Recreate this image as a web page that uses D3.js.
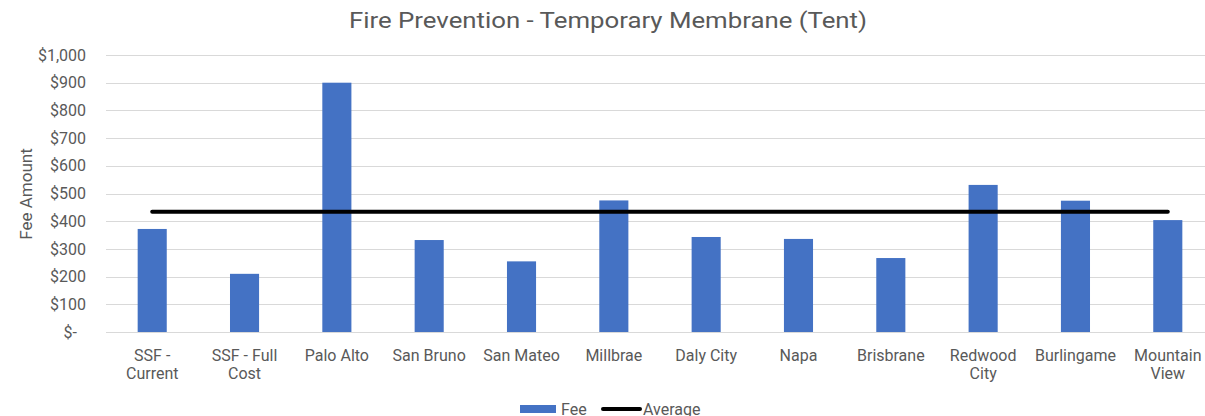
<!DOCTYPE html>
<html>
<head>
<meta charset="utf-8">
<script src="https://cdnjs.cloudflare.com/ajax/libs/d3/7.8.5/d3.min.js"></script>
<style>
  body { margin: 0; background: #fff; }
  text { font-family: Roboto, "Liberation Sans", sans-serif; fill: #595959; }
</style>
</head>
<body>
<div id="chart"></div>
<script>
// values
var cities = ["SSF - Current", "SSF - Full Cost", "Palo Alto", "San Bruno", "San Mateo", "Millbrae",
              "Daly City", "Napa", "Brisbrane", "Redwood City", "Burlingame", "Mountain View"];
var cityLines = [["SSF -", "Current"], ["SSF - Full", "Cost"], ["Palo Alto"], ["San Bruno"], ["San Mateo"], ["Millbrae"],
                 ["Daly City"], ["Napa"], ["Brisbrane"], ["Redwood", "City"], ["Burlingame"], ["Mountain", "View"]];
var fees = [372, 210, 900, 332, 255, 475, 343, 336, 267, 531, 474, 404];
var average = [434, 434, 434, 434, 434, 434, 434, 434, 434, 434, 434, 434];
var yTicks = [0, 100, 200, 300, 400, 500, 600, 700, 800, 900, 1000];

var W = 1205, H = 416;
var margin = {top: 55, right: -9, bottom: 84, left: 106};
var width = W - margin.left - margin.right,
    height = H - margin.top - margin.bottom;

var svg = d3.select("#chart").append("svg")
    .attr("width", W)
    .attr("height", H);

// the reference text looks a bit stretched sideways
svg.append("text")
    .attr("x", 349)
    .attr("y", 28)
    .attr("textLength", 518)
    .attr("lengthAdjust", "spacingAndGlyphs")
    .style("font-size", "22px")
    .text("Fire Prevention - Temporary Membrane (Tent)");

var g = svg.append("g")
    .attr("transform", `translate(${margin.left},${margin.top})`);

var x = d3.scaleBand()
    .domain(cities)
    .range([0, width])
    .paddingInner(0.685)
    .paddingOuter(0.343);

var y = d3.scaleLinear()
    .domain([0, 1000])
    .range([height, 0]);

var fmt = d3.format(",");

// gridlines
g.selectAll(".grid")
    .data(yTicks)
    .enter().append("line")
    .attr("x1", 0)
    .attr("x2", width)
    .attr("y1", d => Math.round(y(d)) + 0.5)
    .attr("y2", d => Math.round(y(d)) + 0.5)
    .attr("stroke", "#d9d9d9")
    .attr("stroke-width", 1);

// y labels
var yAxis = d3.axisLeft(y)
    .tickValues(yTicks)
    .tickSize(0)
    .tickPadding(20)
    .tickFormat(d => d === 0 ? "$-" : "$" + fmt(d));

var ya = g.append("g").call(yAxis);
ya.select(".domain").remove();
ya.selectAll("text")
    .style("font-size", "16px")
    .style("font-family", "Roboto, sans-serif")
    .attr("fill", "#595959")
    .attr("dx", d => d === 0 ? -9 : 0);

// bars
g.selectAll(".bar")
    .data(fees)
    .enter().append("rect")
    .attr("class", "bar")
    .attr("x", (d, i) => x(cities[i]))
    .attr("width", x.bandwidth())
    .attr("y", d => y(d))
    .attr("height", d => height - y(d))
    .attr("fill", "#4472c4");

// average line
var line = d3.line()
    .x((d, i) => x(cities[i]) + x.bandwidth() / 2)
    .y(d => y(d));

g.append("path")
    .datum(average)
    .attr("d", line)
    .attr("fill", "none")
    .attr("stroke", "#000")
    .attr("stroke-width", 4)
    .attr("stroke-linecap", "round");

// x labels
var xl = g.selectAll(".xlab")
    .data(cities)
    .enter().append("text")
    .attr("text-anchor", "middle")
    .attr("transform", d => `translate(${x(d) + x.bandwidth() / 2},${height + 29})`)
    .style("font-size", "16px");

xl.selectAll("tspan")
    .data((d, i) => cityLines[i])
    .enter().append("tspan")
    .attr("x", 0)
    .attr("dy", (d, i) => i === 0 ? 0 : 18)
    .text(d => d);

// y title
svg.append("text")
    .attr("transform", "translate(32,194) rotate(-90)")
    .attr("text-anchor", "middle")
    .style("font-size", "17px")
    .text("Fee Amount");

// legend
var lg = svg.append("g");
lg.append("rect")
    .attr("x", 520)
    .attr("y", 405)
    .attr("width", 36)
    .attr("height", 8)
    .attr("fill", "#4472c4");
lg.append("text")
    .attr("x", 561)
    .attr("y", 415)
    .style("font-size", "16px")
    .text("Fee");
lg.append("line")
    .attr("x1", 603)
    .attr("x2", 640)
    .attr("y1", 409)
    .attr("y2", 409)
    .attr("stroke", "#000")
    .attr("stroke-width", 4)
    .attr("stroke-linecap", "round");
lg.append("text")
    .attr("x", 643)
    .attr("y", 415)
    .style("font-size", "16px")
    .text("Average");
</script>
</body>
</html>
